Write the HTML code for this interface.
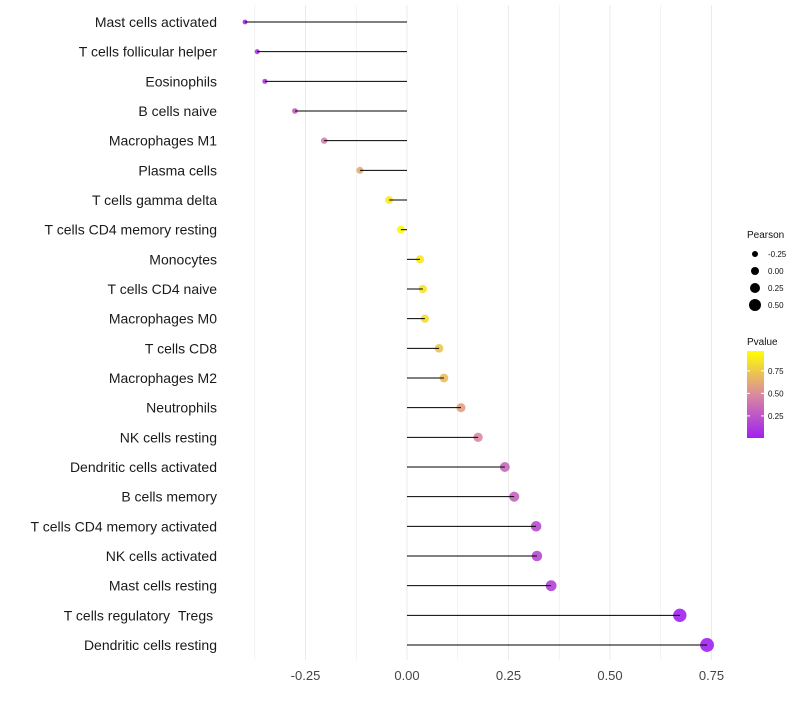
<!DOCTYPE html>
<html><head><meta charset="utf-8"><style>
body{margin:0;background:#fff;font-family:"Liberation Sans",sans-serif}
</style></head><body>
<svg id="chart" width="800" height="700" xmlns="http://www.w3.org/2000/svg">
<defs><linearGradient id="pg" x1="0" y1="1" x2="0" y2="0">
<stop offset="0" stop-color="#a020f0"/><stop offset="0.5" stop-color="#d98aa0"/><stop offset="1" stop-color="#ffff00"/>
</linearGradient></defs>
<g id="grid"></g><g id="dots"></g><g id="stems"></g><g id="labels"></g><g id="legend"></g>
</svg>
<script>
const categories=["Mast cells activated","T cells follicular helper","Eosinophils","B cells naive","Macrophages M1","Plasma cells","T cells gamma delta","T cells CD4 memory resting","Monocytes","T cells CD4 naive","Macrophages M0","T cells CD8","Macrophages M2","Neutrophils","NK cells resting","Dendritic cells activated","B cells memory","T cells CD4 memory activated","NK cells activated","Mast cells resting","T cells regulatory \u00a0Tregs\u00a0","Dendritic cells resting"];
const pearson=[-0.399,-0.369,-0.350,-0.276,-0.204,-0.116,-0.044,-0.015,0.032,0.039,0.044,0.079,0.091,0.133,0.175,0.241,0.264,0.318,0.320,0.355,0.672,0.739];
const pvalue=[0.05,0.1,0.12,0.3,0.45,0.65,0.9,0.97,0.9,0.88,0.85,0.75,0.72,0.6,0.5,0.35,0.32,0.2,0.2,0.15,0.01,0.005];
const xTicks=[-0.25,0,0.25,0.5,0.75];
const xTickLabels=["-0.25","0.00","0.25","0.50","0.75"];
const sizeLegend=[-0.25,0,0.25,0.5];
const sizeLegendLabels=["-0.25","0.00","0.25","0.50"];
const colorLegend=[0.25,0.5,0.75];
const colorLegendLabels=["0.25","0.50","0.75"];
const NS="http://www.w3.org/2000/svg";
const x=v=>407+v*406;
const y=i=>22+i*(623/21);
const r=v=>4+4*v;
function lerp(a,b,t){return a.map((c,i)=>Math.round(c+(b[i]-c)*t));}
function col(p){const A=[160,32,240],B=[217,138,160],C=[255,255,0];const c=p<0.5?lerp(A,B,p/0.5):lerp(B,C,(p-0.5)/0.5);return `rgb(${c.join(',')})`;}
function mk(tag,attrs,parent){const e=document.createElementNS(NS,tag);for(const k in attrs)e.setAttribute(k,attrs[k]);parent.appendChild(e);return e;}
const grid=document.getElementById('grid'),dots=document.getElementById('dots'),stems=document.getElementById('stems'),labels=document.getElementById('labels'),legend=document.getElementById('legend');
for(let v=-0.375;v<=0.76;v+=0.125){const g=mk('line',{x1:x(v),x2:x(v),y1:5,y2:660,stroke:'#ebebeb','stroke-width':Math.abs((v/0.25)%1)<1e-6?1:0.6},grid);
}
xTicks.forEach((v,i)=>{const t=mk('text',{x:x(v),y:680,'font-size':13,fill:'#444','text-anchor':'middle'},labels);t.textContent=xTickLabels[i];
});
categories.forEach((c,i)=>{
const t=mk('text',{x:217,y:y(i)+5,'font-size':14,fill:'#1a1a1a','text-anchor':'end','xml:space':'preserve'},labels);t.textContent=c;

const d=mk('circle',{cx:x(pearson[i]),cy:y(i),r:r(pearson[i]),fill:col(pvalue[i]),'fill-opacity':0.9},dots);

const l=mk('line',{x1:x(0),x2:x(pearson[i]),y1:y(i),y2:y(i),stroke:'#000','stroke-width':1},stems);

});
let t=mk('text',{x:747,y:238,'font-size':10,fill:'#111'},legend);t.textContent='Pearson';

sizeLegend.forEach((v,i)=>{const cy=254+i*17;
const c=mk('circle',{cx:755,cy:cy,r:r(v),fill:'#000'},legend);
const s=mk('text',{x:768,y:cy+3,'font-size':8,fill:'#111'},legend);s.textContent=sizeLegendLabels[i];});
t=mk('text',{x:747,y:345,'font-size':10,fill:'#111'},legend);t.textContent='Pvalue';

const bar=mk('rect',{x:747,y:351,width:17,height:87,fill:'url(#pg)'},legend);
const cy=p=>438-(p-0.005)/(0.97-0.005)*87;
colorLegend.forEach((p,i)=>{const s=mk('text',{x:768,y:cy(p)+3,'font-size':8,fill:'#111'},legend);s.textContent=colorLegendLabels[i];

mk('line',{x1:747,x2:750,y1:cy(p),y2:cy(p),stroke:'#fff'},legend);mk('line',{x1:761,x2:764,y1:cy(p),y2:cy(p),stroke:'#fff'},legend);});
</script>
</body></html>
